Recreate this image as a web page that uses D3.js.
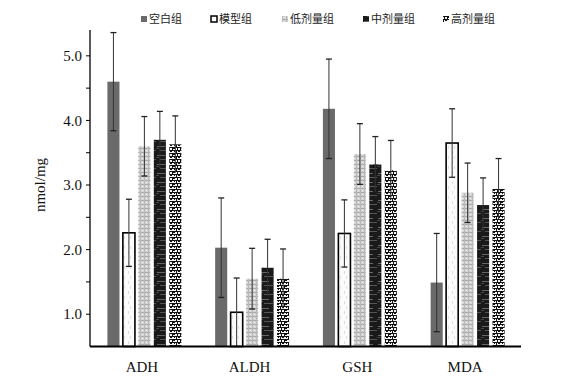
<!DOCTYPE html>
<html><head><meta charset="utf-8">
<script src="https://cdn.jsdelivr.net/npm/d3@7"></script>
<style>body{margin:0;background:#fff}svg{display:block}</style>
</head><body>
<svg id="c" width="580" height="383"></svg>
<script>
const categories = ["ADH","ALDH","GSH","MDA"];
const groups = ["空白组","模型组","低剂量组","中剂量组","高剂量组"];
const blankVals = [4.60, 2.03, 4.18, 1.49];
const modelVals = [2.26, 1.03, 2.25, 3.65];
const lowVals   = [3.60, 1.55, 3.48, 2.88];
const midVals   = [3.70, 1.72, 3.32, 2.69];
const highVals  = [3.63, 1.55, 3.23, 2.94];
const blankErr = [0.76, 0.77, 0.77, 0.76];
const modelErr = [0.52, 0.53, 0.52, 0.53];
const lowErr   = [0.46, 0.47, 0.47, 0.46];
const midErr   = [0.44, 0.44, 0.43, 0.42];
const highErr  = [0.44, 0.46, 0.46, 0.47];
const yTicks = [1.0, 2.0, 3.0, 4.0, 5.0];
const yMinor = [1.5, 2.5, 3.5, 4.5];

const values = [blankVals, modelVals, lowVals, midVals, highVals];
const errs = [blankErr, modelErr, lowErr, midErr, highErr];
const SERIF = "'Liberation Serif', 'Times New Roman', serif";

const svg = d3.select("#c");
const defs = svg.append("defs");

// patterns
const pLow = defs.append("pattern").attr("id","pLow").attr("patternUnits","userSpaceOnUse").attr("width",4).attr("height",4);
pLow.append("rect").attr("width",4).attr("height",4).attr("fill","#d4d4d4");
pLow.append("rect").attr("width",4).attr("height",1).attr("fill","#aaa");
pLow.append("rect").attr("width",1).attr("height",4).attr("fill","#b8b8b8");
pLow.append("rect").attr("x",2).attr("y",2).attr("width",1).attr("height",1).attr("fill","#eee");

const pMid = defs.append("pattern").attr("id","pMid").attr("patternUnits","userSpaceOnUse").attr("width",13).attr("height",9);
pMid.append("rect").attr("width",13).attr("height",9).attr("fill","#1a1a1a");
pMid.append("rect").attr("x",1).attr("y",2).attr("width",8).attr("height",1).attr("fill","#666");
pMid.append("rect").attr("x",4).attr("y",6).attr("width",9).attr("height",1).attr("fill","#555");
pMid.append("rect").attr("x",0).attr("y",4).attr("width",3).attr("height",1).attr("fill","#444");

const pHigh = defs.append("pattern").attr("id","pHigh").attr("patternUnits","userSpaceOnUse").attr("width",8).attr("height",6);
pHigh.append("rect").attr("width",8).attr("height",6).attr("fill","#f4f4f4");
[[0,0,8,1],[0,3,8,1],[0,0,1,3],[4,3,1,3],[2,1,2,1],[5,4,2,1],[6,0,1,2],[1,4,1,2]].forEach(r=>{
  pHigh.append("rect").attr("x",r[0]).attr("y",r[1]).attr("width",r[2]).attr("height",r[3]).attr("fill","#111");
});

const pModel = defs.append("pattern").attr("id","pModel").attr("patternUnits","userSpaceOnUse").attr("width",6).attr("height",10);
pModel.append("rect").attr("width",6).attr("height",10).attr("fill","#fbfbfb");
pModel.append("rect").attr("x",2).attr("y",1).attr("width",1).attr("height",3).attr("fill","#ddd");
pModel.append("rect").attr("x",4).attr("y",6).attr("width",1).attr("height",3).attr("fill","#e2e2e2");

const fills = ["#6a6a6a","url(#pModel)","url(#pLow)","url(#pMid)","url(#pHigh)"];
const strokes = ["none","#000","none","none","none"];

const x0 = d3.scaleBand().domain(categories).range([90, 521]).paddingInner(0).paddingOuter(0);
const x1 = d3.scaleBand().domain(groups).range([14, x0.bandwidth()-13]).padding(0.22);
const y = d3.scaleLinear().domain([0.5, 5.4]).range([346.5, 30]);

// y axis
const gy = svg.append("g").attr("transform","translate(90,0)");
gy.append("line").attr("x1",0).attr("x2",0).attr("y1",y(5.4)).attr("y2",y(0.5)).attr("stroke","#000").attr("stroke-width",1.3);
gy.selectAll(".mt").data(yTicks.concat(yMinor)).join("line")
  .attr("x1",-4).attr("x2",0).attr("y1",d=>y(d)).attr("y2",d=>y(d)).attr("stroke","#000").attr("stroke-width",1);
gy.selectAll(".tl").data(yTicks).join("text")
  .attr("x",-8).attr("y",d=>y(d)).attr("dy","0.35em").attr("text-anchor","end")
  .style("font-family",SERIF).attr("font-size",15).attr("fill","#111")
  .text(d=>d.toFixed(1));
svg.append("text").attr("transform",`translate(45,${y(3.0)}) rotate(-90)`).attr("text-anchor","middle")
  .style("font-family",SERIF).attr("font-size",15).attr("fill","#111").text("nmol/mg");

// bars
const gBars = svg.append("g");
categories.forEach((c,ci)=>{
  groups.forEach((g,gi)=>{
    const v = values[gi][ci], e = errs[gi][ci];
    const bx = x0(c)+x1(g), bw = x1.bandwidth();
    gBars.append("rect").attr("x",bx).attr("y",y(v)).attr("width",bw).attr("height",y(0.5)-y(v))
      .attr("fill",fills[gi]).attr("stroke",strokes[gi]).attr("stroke-width",gi===1?1.6:0);
    const cx = bx+bw/2;
    gBars.append("line").attr("x1",cx).attr("x2",cx).attr("y1",y(v+e)).attr("y2",y(v-e)).attr("stroke","#333").attr("stroke-width",1);
    gBars.append("line").attr("x1",cx-3).attr("x2",cx+3).attr("y1",y(v+e)).attr("y2",y(v+e)).attr("stroke","#222").attr("stroke-width",1.3);
    if (gi<3) gBars.append("line").attr("x1",cx-3).attr("x2",cx+3).attr("y1",y(v-e)).attr("y2",y(v-e)).attr("stroke","#222").attr("stroke-width",1.3);
  });
});

// x axis
svg.append("line").attr("x1",90).attr("x2",521).attr("y1",y(0.5)).attr("y2",y(0.5)).attr("stroke","#000").attr("stroke-width",2);
svg.selectAll(".cl").data(categories).join("text")
  .attr("x",d=>x0(d)+x0.bandwidth()/2-2).attr("y",372).attr("text-anchor","middle")
  .style("font-family",SERIF).attr("font-size",15).attr("fill","#111").text(d=>d);

// legend
const legX = [141, 211, 282, 363, 443];
groups.forEach((g,gi)=>{
  const lg = svg.append("g").attr("transform",`translate(${legX[gi]},19)`);
  lg.append("rect").attr("x",0).attr("y",-3).attr("width",6).attr("height",6)
    .attr("fill",gi===1?"#fff":fills[gi]).attr("stroke",gi===1?"#000":"none").attr("stroke-width",gi===1?1.5:0);
  lg.append("text").attr("x",8).attr("y",0).attr("dy","0.36em")
    .style("font-family","'Noto Sans CJK SC', sans-serif").attr("font-size",11).attr("fill","#222").text(g);
});
</script>
</body></html>
